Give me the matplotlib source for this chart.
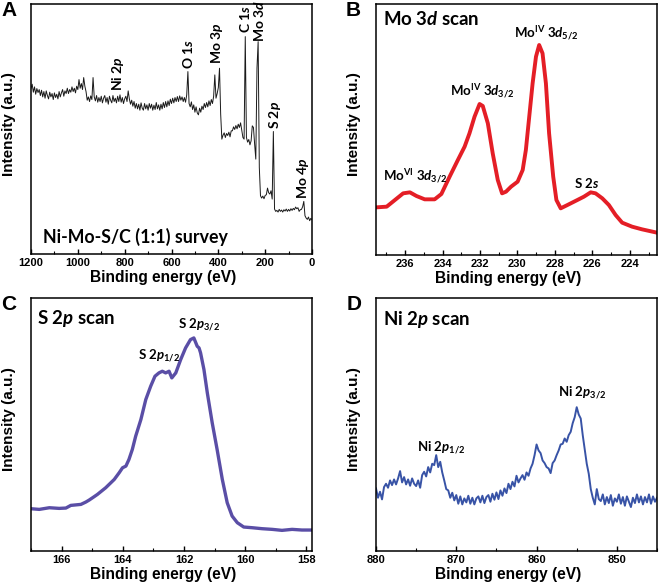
import numpy as np
import matplotlib
matplotlib.use("Agg")
import matplotlib.pyplot as plt
from matplotlib.ticker import MultipleLocator

plt.rcParams['mathtext.fontset'] = 'custom'
plt.rcParams['mathtext.rm'] = 'Lato:bold'
plt.rcParams['mathtext.it'] = 'Lato:bold:italic'
plt.rcParams['mathtext.bf'] = 'Lato:bold'

# ---- A: survey spectrum, 1200 -> 0 eV in 5 eV steps (arbitrary counts)
survey_counts = [
    498, 510, 486, 502, 480, 497, 485, 494, 476, 492,
    472, 488, 468, 490, 476, 466, 486, 472, 482, 464,
    484, 470, 480, 466, 488, 472, 484, 494, 474, 490,
    482, 498, 482, 494, 486, 502, 488, 498, 484, 504,
    494, 524, 498, 512, 494, 530, 504, 488, 462, 472,
    458, 475, 464, 530, 472, 460, 476, 456, 470, 458,
    474, 454, 468, 476, 456, 470, 450, 474, 462, 454,
    476, 458, 468, 454, 474, 458, 478, 456, 470, 452,
    466, 474, 458, 490, 466, 450, 462, 444, 458, 438,
    452, 436, 450, 432, 454, 438, 432, 452, 436, 448,
    432, 452, 438, 450, 432, 447, 434, 455, 436, 448,
    432, 450, 436, 455, 440, 458, 442, 460, 446, 465,
    452, 468, 454, 470, 458, 473, 458, 475, 462, 472,
    458, 470, 456, 478, 548, 452, 442, 457, 434, 448,
    426, 442, 424, 418, 438, 426, 444, 434, 452, 440,
    455, 442, 460, 446, 464, 452, 474, 538, 468, 482,
    500, 558, 420, 345, 357, 364, 350, 362, 356, 366,
    352, 370, 370, 382, 374, 386, 376, 390, 380, 394,
    372, 350, 345, 653, 350, 336, 344, 328, 340, 385,
    380, 330, 285, 558, 638, 260, 175, 168, 174, 166,
    176, 178, 198, 184, 180, 190, 165, 368, 135, 128,
    131, 126, 134, 128, 132, 126, 133, 129, 135, 128,
    134, 129, 136, 131, 137, 133, 141, 136, 139, 128,
    133, 134, 142, 158, 115, 108, 104, 111, 100, 107,
    103,
]
survey_energy = np.linspace(1200, 0, len(survey_counts))
survey_labels = [("Ni 2$p$", 827, 490), ("O 1$s$", 529, 555), ("Mo 3$p$", 405, 570),
                 ("C 1$s$", 284, 663), ("Mo 3$d$", 226, 636), ("S 2$p$", 159, 375),
                 ("Mo 4$p$", 38, 165)]

# ---- B: Mo 3d
mo_energy = [237.51, 236.98, 236.54, 236.10, 235.74, 235.39, 234.95, 234.42, 234.06, 233.62,
             233.18, 232.82, 232.56, 232.29, 232.02, 231.85, 231.58, 231.32, 231.05, 230.82,
             230.61, 230.34, 229.99, 229.72, 229.55, 229.37, 229.19, 229.01, 228.84, 228.66,
             228.48, 228.31, 228.09, 227.92, 227.69, 227.33, 226.80, 226.45, 226.09, 225.83,
             225.47, 225.12, 224.76, 224.41, 223.88, 223.35, 222.55]
mo_counts = [143, 145, 165, 185, 188, 177, 167, 167, 183, 235,
             285, 325, 365, 415, 453, 447, 395, 305, 225, 185,
             190, 205, 220, 255, 315, 415, 515, 595, 630, 605,
             515, 365, 235, 165, 140, 150, 165, 175, 188, 185,
             170, 150, 120, 97, 85, 77, 67]
mo_labels = [(r"Mo$^{\mathrm{VI}}$ 3$d_{3/2}$", 237.2, 220),
             (r"Mo$^{\mathrm{IV}}$ 3$d_{3/2}$", 233.58, 475),
             (r"Mo$^{\mathrm{IV}}$ 3$d_{5/2}$", 230.16, 650),
             (r"S 2$s$", 226.98, 200)]

# ---- C: S 2p
s_energy = [167.00, 166.73, 166.40, 166.08, 165.86, 165.70, 165.37, 165.21, 165.10, 164.94,
            164.83, 164.56, 164.28, 164.12, 164.01, 163.90, 163.80, 163.69, 163.58, 163.41,
            163.25, 163.09, 162.95, 162.82, 162.71, 162.60, 162.49, 162.40, 162.27, 162.11,
            161.95, 161.79, 161.68, 161.57, 161.51, 161.46, 161.35, 161.24, 161.08, 160.92,
            160.75, 160.59, 160.43, 160.26, 160.05, 159.78, 159.45, 159.12, 158.80, 158.47,
            158.15, 157.82]
s_counts = [127, 125, 130, 128, 129, 137, 140, 147, 153, 163,
            170, 190, 215, 235, 250, 255, 275, 305, 345, 395,
            455, 495, 525, 535, 540, 535, 540, 520, 535, 575,
            610, 635, 640, 615, 610, 595, 545, 475, 385, 305,
            215, 145, 105, 85, 72, 70, 67, 65, 62, 65,
            63, 63]
s_labels = [("S 2$p_{1/2}$", 163.52, 575), ("S 2$p_{3/2}$", 162.19, 670)]

# ---- D: Ni 2p, 880 -> 845 eV in 0.25 eV steps
ni_counts = [
    188, 160, 178, 155, 192, 202, 190, 212, 198, 215, 200, 218,
    240, 206, 222, 200, 215, 196, 218, 202, 195, 212, 190, 228,
    238, 224, 252, 236, 262, 258, 288, 252, 268, 236, 212, 186,
    182, 160, 175, 152, 168, 142, 164, 140, 158, 146, 166, 142,
    160, 140, 158, 164, 146, 166, 144, 162, 168, 148, 172, 154,
    176, 156, 182, 166, 188, 174, 202, 186, 208, 194, 226, 206,
    218, 228, 214, 236, 226, 248, 262, 288, 320, 302, 294, 272,
    264, 252, 248, 234, 264, 272, 288, 302, 320, 322, 338, 328,
    348, 358, 384, 402, 432, 410, 398, 348, 306, 262, 232, 186,
    160, 140, 186, 156, 150, 170, 140, 162, 144, 168, 136, 158,
    148, 170, 142, 162, 136, 164, 148, 132, 160, 144, 170, 146,
    164, 140, 162, 146, 170, 142, 164, 148, 160,
]
ni_energy = np.linspace(880, 845, len(ni_counts))
ni_labels = [("Ni 2$p_{1/2}$", 874.88, 300), ("Ni 2$p_{3/2}$", 857.27, 465)]

W, H = 660, 586
fig = plt.figure(figsize=(W / 100, H / 100), dpi=100)

def make_ax(left, top, right, bottom):
    return fig.add_axes([left / W, 1 - bottom / H, (right - left) / W, (bottom - top) / H])

axA = make_ax(31, 4, 312, 254)
axB = make_ax(376, 4, 657, 255)
axC = make_ax(31, 298, 312, 551)
axD = make_ax(376, 298, 657, 551)

lab = dict(family='Lato', weight='bold')
tick_font = 'Liberation Sans'

def style(ax, xlim, ylim, major, minor):
    ax.set_xlim(*xlim)
    ax.set_ylim(*ylim)
    ax.set_yticks([])
    ax.xaxis.set_major_locator(MultipleLocator(major))
    ax.xaxis.set_minor_locator(MultipleLocator(minor))
    ax.tick_params(axis='x', which='major', direction='in', length=3.5, width=1.0, pad=3,
                   labelsize=8)
    ax.tick_params(axis='x', which='minor', direction='in', length=2, width=0.8)
    for lbl in ax.get_xticklabels():
        lbl.set_family(tick_font)
        lbl.set_weight('bold')
    for sp in ax.spines.values():
        sp.set_linewidth(1.1)
    ax.set_xlabel('Binding energy (eV)', family=tick_font, weight='bold', fontsize=11.2)
    ax.set_ylabel('Intensity (a.u.)', family=tick_font, weight='bold', fontsize=11)
    ax.xaxis.set_label_coords(0.47, -0.064)
    ax.yaxis.set_label_coords(-0.052, 0.52)

# A
axA.plot(survey_energy, survey_counts, color='#1a1a1a', lw=0.7)
style(axA, (1200, 0), (0, 751), 200, 100)
for t, x, y in survey_labels:
    axA.text(x, y, t, rotation=90, ha='center', va='bottom', fontsize=10, **lab)
axA.text(0.043, 0.044, 'Ni-Mo-S/C (1:1) survey', transform=axA.transAxes,
         ha='left', va='baseline', fontsize=12.8, **lab)

# B
axB.plot(mo_energy, mo_counts, color='#e41e26', lw=2.8, solid_joinstyle='round')
style(axB, (237.55, 222.55), (0, 753), 2, 1)
for t, x, y in mo_labels:
    axB.text(x, y, t, ha='left', va='baseline', fontsize=9.5, **lab)
axB.text(0.025, 0.976, 'Mo 3$d$ scan', transform=axB.transAxes, ha='left', va='top',
         fontsize=13.4, **lab)

# C
axC.plot(s_energy, s_counts, color='#5a4ea6', lw=2.4, solid_joinstyle='round')
style(axC, (167.0, 157.82), (0, 760), 2, 1)
for t, x, y in s_labels:
    axC.text(x, y, t, ha='left', va='baseline', fontsize=9.5, **lab)
axC.text(0.02, 0.96, 'S 2$p$ scan', transform=axC.transAxes, ha='left', va='top',
         fontsize=13.4, **lab)

# D
axD.plot(ni_energy, ni_counts, color='#3853a6', lw=1.4)
style(axD, (880, 845), (0, 760), 10, 5)
for t, x, y in ni_labels:
    axD.text(x, y, t, ha='left', va='baseline', fontsize=9.5, **lab)
axD.text(0.026, 0.955, 'Ni 2$p$ scan', transform=axD.transAxes, ha='left', va='top',
         fontsize=13.4, **lab)

# panel letters
for letter, x, y in [('A', 1, 1), ('B', 346, 1), ('C', 1, 295), ('D', 347, 295)]:
    fig.text(x / W, 1 - y / H, letter, ha='left', va='top', family=tick_font,
             weight='bold', fontsize=15)

fig.savefig('out.png', dpi=100)
